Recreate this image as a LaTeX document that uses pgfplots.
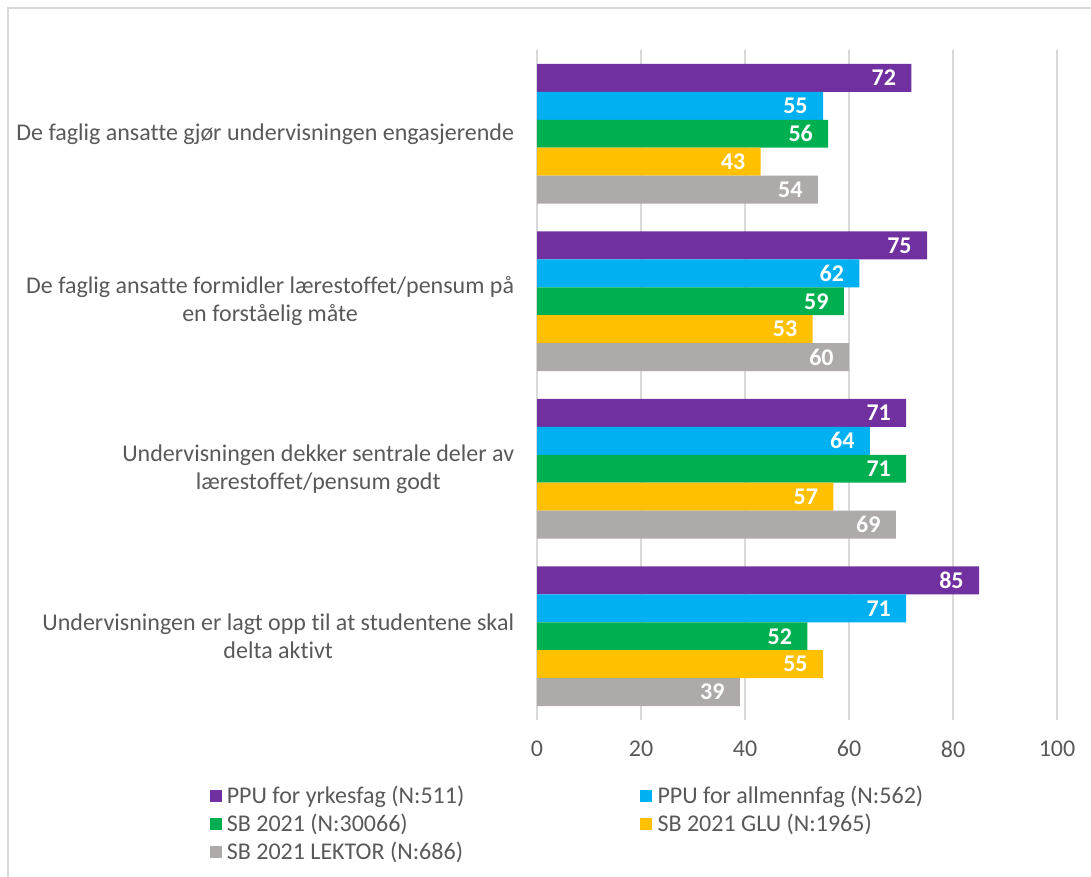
\documentclass[border=0pt]{standalone}
\usepackage{pgfplots}
\pgfplotsset{compat=1.18}
\usepackage{fontspec}
\setmainfont{Carlito}[Ligatures=CommonOff]
\definecolor{cPur}{HTML}{7030A0}
\definecolor{cBlu}{HTML}{00B0F0}
\definecolor{cGrn}{HTML}{00B050}
\definecolor{cYel}{HTML}{FFC000}
\definecolor{cGry}{HTML}{AEAAAA}
\definecolor{cGrid}{HTML}{D9D9D9}
\definecolor{cTxt}{HTML}{595959}
\begin{document}
\begin{tikzpicture}
\useasboundingbox (0,0) rectangle (818.25pt,657pt);
\draw[cGrid, line width=1.2pt] (6pt,-10pt) -- (6pt,651pt) -- (830pt,651pt);
\begin{axis}[
  at={(402.75pt,117pt)}, anchor=south west,
  scale only axis, width=390pt, height=502.5pt,
  xbar=0pt, bar width=0.16667,
  y dir=reverse,
  ymin=-0.5, ymax=3.5, xmin=0, xmax=100,
  xtick={0,20,...,100},
  ytick={0,1,2,3},
  yticklabels={De faglig ansatte gjør undervisningen engasjerende,
    De faglig ansatte formidler lærestoffet/pensum på\\en forståelig måte,
    Undervisningen dekker sentrale deler av\\lærestoffet/pensum godt,
    Undervisningen er lagt opp til at studentene skal\\delta aktivt},
  yticklabel style={align=center, font=\fontsize{18}{21}\selectfont, text=cTxt, inner sep=0pt, xshift=-17pt},
  xticklabel style={font=\fontsize{18}{21}\selectfont, text=cTxt, yshift=-12pt},
  /pgf/number format/assume math mode=true,
  major tick length=0pt,
  axis line style={draw=none},
  xmajorgrids, grid style={cGrid, line width=1.2pt},
  nodes near coords,
  every node near coord/.append style={anchor=east, text=white, font=\bfseries\fontsize{18}{20}\selectfont, xshift=-8pt},
  legend columns=2,
  legend style={at={(-0.638,-0.091)}, anchor=north west, draw=none, fill=none,
    font=\fontsize{18}{21}\selectfont, text=cTxt,
    nodes={inner ysep=1.5pt, inner xsep=4pt, anchor=west},
    /tikz/every even column/.append style={column sep=128pt},
    row sep=3.5pt},
  legend image code/.code={\fill[#1] (0pt,-4.5pt) rectangle (9pt,4.5pt);},
  clip=false,
]
\addplot[fill=cPur, draw=none] coordinates {(72,0) (75,1) (71,2) (85,3)};
\addplot[fill=cBlu, draw=none] coordinates {(55,0) (62,1) (64,2) (71,3)};
\addplot[fill=cGrn, draw=none] coordinates {(56,0) (59,1) (71,2) (52,3)};
\addplot[fill=cYel, draw=none] coordinates {(43,0) (53,1) (57,2) (55,3)};
\addplot[fill=cGry, draw=none] coordinates {(54,0) (60,1) (69,2) (39,3)};
\legend{PPU for yrkesfag (N:511), PPU for allmennfag (N:562), SB 2021 (N:30066), SB 2021 GLU (N:1965), SB 2021 LEKTOR (N:686)}
\end{axis}
\end{tikzpicture}
\end{document}
